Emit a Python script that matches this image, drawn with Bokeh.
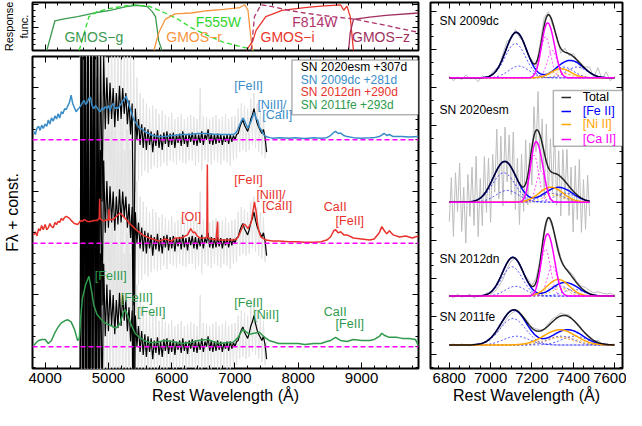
import numpy as np
from bokeh.plotting import figure
from bokeh.layouts import row, column
from bokeh.models import (LinearAxis, SingleIntervalTicker, FixedTicker, Label,
                          BoxAnnotation, Legend, LegendItem, Span, Range1d)
from bokeh.embed import file_html
from bokeh.resources import INLINE

FONT = "Liberation Sans"

# ---------------- filter response curves (top panel) ----------------
g_wl = [4026, 4154, 4300, 4513, 4769, 5026, 5282, 5436, 5615, 5692, 5744, 5795, 5846]
g_r = [0.0, 0.65, 0.69, 0.74, 0.82, 0.88, 0.96, 0.99, 0.96, 0.85, 0.74, 0.21, 0.0]
f555_wl = [4538, 4692, 4820, 5026, 5385, 5641, 5897, 6103, 6308, 6564, 6820, 7077, 7231, 7300]
f555_r = [0.0, 0.74, 0.85, 0.92, 1.0, 0.97, 0.82, 0.68, 0.5, 0.33, 0.18, 0.09, 0.04, 0.0]
r_wl = [5718, 5795, 5897, 6051, 6308, 6564, 6820, 7077, 7154, 7205, 7256, 7282]
r_r = [0.0, 0.39, 0.68, 0.80, 0.82, 0.87, 0.90, 0.94, 1.0, 0.88, 0.21, 0.0]
i_wl = [7179, 7282, 7333, 7487, 7744, 8103, 8359, 8667, 8718, 8769, 8821, 8872]
i_r = [0.0, 0.21, 0.44, 0.74, 0.88, 0.94, 0.97, 1.0, 0.88, 0.97, 0.74, 0.0]
f814_wl = [7256, 7308, 7410, 7590, 7846, 8103, 8359, 8615, 8872, 9128, 9385, 9641, 9897]
f814_r = [0.0, 0.74, 1.0, 0.96, 0.88, 0.82, 0.77, 0.73, 0.69, 0.62, 0.55, 0.47, 0.40]
z_wl = [8795, 8821, 8872, 9128, 9385, 9897]
z_r = [0.0, 0.39, 0.68, 0.73, 0.77, 0.82]

# ---------------- comparison spectra (main panel, flux above own baseline) ----------------
dc_wl = [3820, 3845, 3870, 3897, 3920, 3945, 3970, 4000, 4025, 4050,
         4075, 4100, 4128, 4155, 4180, 4205, 4230, 4256, 4280, 4308,
         4330, 4360, 4385, 4410, 4435, 4462, 4490, 4513, 4540, 4565,
         4590, 4615, 4640, 4667, 4690, 4718, 4740, 4770, 4795, 4820,
         4850, 4872, 4900, 4925, 4950, 4975, 5000, 5026, 5050, 5077,
         5100, 5128, 5150, 5180, 5205, 5231, 5260, 5282, 5305, 5333,
         5360, 5385, 5410, 5436, 5480, 5538, 5590, 5641, 5700, 5795,
         5900, 6000, 6050, 6150, 6300, 6400, 6560, 6700, 6820, 6900,
         6975, 7020, 7050, 7100, 7128, 7160, 7180, 7205, 7230, 7256,
         7290, 7308, 7335, 7360, 7385, 7410, 7450, 7487, 7550, 7600,
         7700, 7850, 7950, 8100, 8250, 8360, 8450, 8510, 8560, 8590,
         8630, 8670, 8720, 8770, 8870, 9000, 9130, 9200, 9280, 9330,
         9360, 9400, 9440, 9500, 9640, 9750, 9900]
dc_flux = [.08, .05, .11, .13, .09, .14, .11, .15, .13, .19,
           .15, .21, .18, .23, .20, .25, .21, .27, .25, .30,
           .29, .33, .36, .43, .35, .31, .27, .29, .31, .33,
           .36, .38, .34, .36, .40, .41, .33, .30, .33, .31,
           .28, .27, .31, .29, .32, .30, .33, .28, .33, .35,
           .30, .31, .30, .33, .35, .38, .40, .42, .37, .32,
           .27, .22, .18, .16, .12, .10, .07, .06, .04, .03,
           .03, .04, .04, .05, .05, .06, .06, .05, .05, .05,
           .05, .07, .11, .18, .21, .17, .14, .11, .15, .18,
           .24, .26, .20, .19, .12, .10, .05, .03, .02, .015,
           .02, .015, .02, .012, .018, .015, .02, .04, .07, .08,
           .06, .065, .04, .03, .02, .015, .018, .02, .03, .05,
           .06, .04, .05, .03, .03, .025, .03]

dn_wl = [3820, 3845, 3870, 3897, 3920, 3945, 3970, 4000, 4025, 4050,
         4075, 4100, 4128, 4155, 4180, 4205, 4230, 4256, 4280, 4308,
         4335, 4360, 4385, 4410, 4462, 4513, 4540, 4565, 4590, 4615,
         4667, 4718, 4770, 4820, 4855, 4861, 4867, 4923, 4974, 5000,
         5007, 5014, 5077, 5128, 5179, 5205, 5231, 5282, 5333, 5385,
         5436, 5500, 5538, 5641, 5750, 5795, 5900, 6000, 6050, 6150,
         6250, 6300, 6340, 6364, 6400, 6450, 6520, 6555, 6563, 6571,
         6600, 6650, 6700, 6725, 6733, 6800, 6900, 6975, 7020, 7050,
         7100, 7130, 7160, 7205, 7256, 7290, 7308, 7335, 7360, 7385,
         7410, 7487, 7590, 7700, 7850, 8000, 8100, 8250, 8360, 8450,
         8510, 8560, 8590, 8630, 8670, 8720, 8770, 8870, 9000, 9130,
         9200, 9280, 9320, 9360, 9400, 9440, 9500, 9600, 9700, 9800,
         9900]
dn_flux = [.08, .11, .07, .14, .12, .17, .13, .18, .13, .15,
           .19, .16, .15, .20, .18, .21, .20, .24, .22, .25,
           .26, .25, .24, .22, .19, .18, .20, .22, .21, .23,
           .21, .21, .22, .22, .24, .43, .24, .21, .23, .22,
           .33, .23, .23, .26, .29, .28, .26, .23, .19, .16,
           .13, .10, .08, .05, .03, .02, .04, .02, .05, .05,
           .08, .14, .10, .11, .07, .05, .05, .06, .76, .06,
           .04, .04, .03, .21, .03, .03, .03, .03, .04, .06,
           .13, .18, .18, .14, .20, .33, .40, .30, .17, .10,
           .06, .03, .02, .02, .015, .015, .01, .01, .015, .03,
           .06, .12, .13, .10, .11, .08, .08, .05, .04, .03,
           .04, .10, .16, .12, .09, .12, .08, .06, .07, .05,
           .07]

fe_wl = [3820, 3860, 3897, 3950, 4000, 4050, 4100, 4150, 4205, 4256,
         4308, 4359, 4410, 4462, 4513, 4540, 4564, 4590, 4640, 4692,
         4730, 4769, 4820, 4877, 4920, 4970, 5020, 5077, 5123, 5180,
         5230, 5261, 5300, 5354, 5420, 5492, 5560, 5646, 5750, 5892,
         6000, 6154, 6300, 6415, 6569, 6650, 6769, 6880, 6969, 7050,
         7123, 7180, 7231, 7300, 7385, 7450, 7538, 7692, 7846, 8000,
         8103, 8250, 8359, 8450, 8513, 8590, 8667, 8769, 8872, 9000,
         9128, 9200, 9282, 9320, 9359, 9436, 9550, 9641, 9750, 9850,
         9900]
fe_flux = [.01, .04, .06, .07, .07, .03, .06, .13, .19, .23,
           .25, .26, .24, .17, .06, .08, .30, .47, .60, .68,
           .55, .40, .31, .27, .24, .22, .21, .19, .18, .22,
           .32, .36, .31, .22, .13, .09, .06, .04, .04, .06,
           .05, .03, .04, .06, .07, .05, .03, .04, .04, .09,
           .17, .14, .12, .13, .14, .10, .06, .03, .03, .03,
           .02, .03, .03, .05, .06, .09, .06, .05, .07, .06,
           .06, .07, .10, .13, .11, .09, .09, .08, .08, .07,
           .01]

# SN 2020esm spectrum (binned, black) and unbinned (grey), 25 A grid
esm_start, esm_step = 4550, 25
esm_flux = [-2.5, 2.8, -2.9, 3.0, -2.2, 2.6, -3.0, 2.5, -1.8, 3.0,
            -2.6, 1.6, -1.2, 0.9, -0.6, 0.8, 0.1, 0.6, 0.15, 0.55,
            0.2, 0.5, 0.12, 0.45, 0.18, 0.52, 0.2, 0.5, 0.25, 0.45,
            0.15, 0.38, 0.05, 0.35, -1.6, 0.3, 0.0, 0.2, -0.05, 0.15,
            -0.08, 0.12, -0.1, 0.1, -0.05, 0.08, -0.12, 0.06, -0.06, 0.09,
            -0.08, 0.05, -0.1, 0.07, -0.04, 0.08, -0.07, 0.06, -0.05, 0.07,
            -0.08, 0.05, -0.03, 0.06, -0.06, 0.08, -0.04, 0.05, -0.07, 0.06,
            -0.02, 0.07, -0.05, 0.06, -0.06, 0.05, -0.03, 0.08, -0.05, 0.05,
            0.0, 0.1, -0.04, 0.06, -0.05, 0.05, -0.04, 0.06, -0.03, 0.05,
            -0.05, 0.04, -0.02, 0.05, -0.04, 0.05, -0.02, 0.04, 0.0, 0.05,
            0.06, 0.12, 0.16, 0.19, 0.14, 0.11, 0.08, 0.13, 0.2, 0.24,
            0.3, 0.22, 0.16, 0.12, 0.09, 0.06, 0.1, 0.02, -0.12]
esm_raw = [3.5, -3.2, 3.4, -3.5, 3.3, -3.4, 3.5, -3.0, 3.4, -3.3,
           3.2, -2.8, 2.9, -2.5, 2.2, -1.8, 1.6, -0.9, 1.3, -0.8,
           1.2, -0.7, 1.1, -0.6, 1.0, -0.7, 1.2, -0.5, 0.9, -0.6,
           1.1, -0.8, 0.9, -0.7, 0.8, -0.5, 0.6, -0.4, 0.45, -0.35,
           0.4, -0.3, 0.35, -0.32, 0.3, -0.28, 0.33, -0.25, 0.3, -0.27,
           0.25, -0.26, 0.28, -0.22, 0.24, -0.25, 0.22, -0.2, 0.26, -0.22,
           0.2, -0.24, 0.22, -0.2, 0.25, -0.22, 0.2, -0.23, 0.22, -0.2,
           0.24, -0.2, 0.22, -0.25, 0.2, -0.22, 0.5, -0.3, 0.23, -0.2,
           0.22, -0.22, 0.2, -0.24, 0.22, -0.2, 0.24, -0.22, 0.2, -0.24,
           0.22, -0.2, 0.25, -0.22, 0.2, -0.25, 0.22, -0.2, 0.23, -0.18,
           0.3, -0.12, 0.35, -0.1, 0.33, -0.12, 0.3, -0.1, 0.4, -0.05,
           0.45, -0.08, 0.35, -0.12, 0.3, -0.15, 0.25, -0.18, 0.05]
esm_wl = [esm_start + esm_step * k for k in range(len(esm_flux))]

group_offsets = [2.0, 1.0, 0.0]          # 2009dc, 2012dn, 2011fe groups

# ---------------- line fits (right panel) ----------------
fe_rest = [7155, 7172, 7388, 7453]
ni_rest = [7378, 7412]
ca_rest = [7291, 7324]
fit_names = ["SN 2009dc", "SN 2020esm", "SN 2012dn", "SN 2011fe"]
fit_base = [297, 170, 74, 24]
fit_xmax = [7600, 7480, 7600, 7600]
fit_label_y = [355, 264, 112, 53]
fe_shift = [-35, -91, -51, -47]
fe_sigma = [50, 55, 50, 62]
fe_amp = [[35, 12, 11, 11], [30, 12, 9, 9], [30, 10, 10, 7], [27, 9, 9, 9]]
ni_shift = [-50, -100, -65, -60]
ni_sigma = [45, 55, 50, 75]
ni_amp = [[6, 4], [9, 7], [10, 8], [8, 8]]
ca_shift = [-25, -80, -25, 0]
ca_sigma = [24, 22, 24, 24]
ca_amp = [[42, 28], [48, 32], [48, 31], [0, 0]]
# observed-minus-fit residuals of the grey data
res_step = [20, 10, 20, 20]
res_data = [
    [2, -3, 1, -2, 3, -1, 0, -4, 2, -2, 1, 3, -1, 4, 6, -2, 3, -3, 1, -2,
     2, -4, 5, 8, 3, -3, 2, -5, 4, -2, 3, -1, -4, 2, 5, -3, 9, -2, 6, -3, 1],
    [-20, 25, -35, 30, -10, 40, -30, 15, -42, 28, -15, 35, -25, 45, -38, 20, -30, 38, -22, 30,
     -40, 25, -18, 42, -33, 28, -45, 35, -20, 30, -28, 40, -35, 22, -42, 33, -25, 45, -30, 20,
     -38, 30, -22, 40, -35, 25, -45, 38, -28, 33, -20, 42, -32, 25, -40, 30, -18, 35, -30, 22,
     -42, 28, -25, 38, -35, 20, -30, 26, -15],
    [1, -2, 2, -1, 0, 2, -2, 1, -1, 2, -2, -4, -6, -8, -6, -3, 0, 2, -1, 3,
     1, 4, 2, -3, 1, -2, 3, 2, -1, 2, 3, 1, 2, 4, 3, 2, 4, 3, 2, 3, 1],
    [0, 1, -1, 1, 0, -1, 1, 0, -1, 1, 0, -2, -3, -4, -4, -3, -1, 0, 1, 2,
     1, 2, 1, 0, 2, 3, 2, 3, 1, 2, 0, 1, -1, 0, 1, -1, 2, 0, 1, 0, 1],
]

C_BLUE = "#3a8cc8"
C_RED = "#e8322b"
C_GREEN = "#2f9a4c"
C_FE, C_NI, C_CA = "#0000ff", "#ffa500", "#ff00ff"


def style_axis(ax, labels=False, size="15px"):
    ax.axis_line_color = None
    ax.major_tick_in = 6
    ax.major_tick_out = 0
    ax.minor_tick_in = 3
    ax.minor_tick_out = 0
    ax.major_tick_line_color = "black"
    ax.minor_tick_line_color = "black"
    if labels:
        ax.major_label_text_font = FONT
        ax.major_label_text_font_size = size
        ax.major_label_text_color = "black"
        ax.major_label_standoff = 4
    else:
        ax.major_label_text_font_size = "0px"
        ax.major_label_standoff = 0
    ax.axis_label_text_font = FONT
    ax.axis_label_text_font_style = "normal"
    ax.axis_label_text_color = "black"


def make_fig(xr, yr, fw, fh, bl, br, bt, bb):
    p = figure(x_range=xr, y_range=yr, frame_width=fw, frame_height=fh,
               min_border_left=bl, min_border_right=br, min_border_top=bt,
               min_border_bottom=bb, output_backend="svg", toolbar_location=None,
               tools="")
    p.xgrid.visible = False
    p.ygrid.visible = False
    p.outline_line_color = "black"
    p.outline_line_width = 2
    p.background_fill_color = "white"
    p.border_fill_color = "white"
    return p


def mirror(p, xt, yt):
    a = LinearAxis(ticker=xt)
    style_axis(a)
    p.add_layout(a, "above")
    b = LinearAxis(ticker=yt)
    style_axis(b)
    p.add_layout(b, "right")


def gauss(x, c, s, a):
    return a * np.exp(-0.5 * ((x - c) / s) ** 2)


# ================= top panel =================
xt_main = SingleIntervalTicker(interval=1000, num_minor_ticks=5)
yt_top = SingleIntervalTicker(interval=0.5, num_minor_ticks=4)
top = make_fig(Range1d(3800, 9900), Range1d(0, 1.05), 386, 48, 32, 4, 2, 2)
top.xaxis.ticker = xt_main
top.yaxis.ticker = yt_top
style_axis(top.xaxis[0])
style_axis(top.yaxis[0])
top.yaxis.axis_label = "Response\nfunc."
top.yaxis.axis_label_text_font_size = "11px"
top.yaxis.axis_label_standoff = 3
mirror(top, xt_main, yt_top)

curves = [(g_wl, g_r, "#3c9a50", "solid"), (f555_wl, f555_r, "#33dd33", "5 3"),
          (r_wl, r_r, "#f79540", "solid"), (i_wl, i_r, "#e8352d", "solid"),
          (f814_wl, f814_r, "#b0346c", "5 3"), (z_wl, z_r, "#a02f5f", "solid")]
for wl, rr, col, dash in curves:
    top.line(wl, rr, line_color=col, line_width=1.3, line_dash=dash)

for txt, x, y, col in [("GMOS\u2212g", 4769, 0.30, "#3c9a50"), ("F555W", 6738, 0.63, "#2fd42f"),
                       ("GMOS\u2212r", 6354, 0.30, "#f79540"), ("GMOS\u2212i", 7831, 0.30, "#e8352d"),
                       ("F814W", 8262, 0.63, "#b0346c"), ("GMOS\u2212z", 9308, 0.30, "#a02f5f")]:
    top.add_layout(Label(x=x, y=y, text=txt, text_align="center", text_baseline="middle",
                         text_font=FONT, text_font_size="14px", text_color=col))

# ================= main panel =================
yt_main = FixedTicker(ticks=[0.5, 1.5, 2.5],
                      minor_ticks=[round(v, 2) for v in np.arange(-0.2, 2.81, 0.1)])
main = make_fig(Range1d(3800, 9900), Range1d(-0.211, 2.804), 386, 312, 32, 4, 4, 42)
main.xaxis.ticker = xt_main
main.yaxis.ticker = yt_main
style_axis(main.xaxis[0], labels=True)
style_axis(main.yaxis[0])
main.xaxis.axis_label = "Rest Wavelength (\u00c5)"
main.xaxis.axis_label_text_font_size = "16px"
main.xaxis.axis_label_standoff = 1
main.yaxis.axis_label = "F\u03bb + const."
main.yaxis.axis_label_text_font_size = "16px"
main.yaxis.axis_label_standoff = 12
mirror(main, xt_main, yt_main)

for off in group_offsets:
    main.line(esm_wl, [v + off for v in esm_raw], line_color="#e2e2e2", line_width=1)
for off in group_offsets:
    main.line(esm_wl, [v + off for v in esm_flux], line_color="black", line_width=1.2)
for off in group_offsets:
    main.add_layout(Span(location=off, dimension="width", line_color="#ff00ff",
                         line_dash="5 3", line_width=1.5))
for wl, fl, off, col in [(dc_wl, dc_flux, 2.0, C_BLUE), (dn_wl, dn_flux, 1.0, C_RED),
                         (fe_wl, fe_flux, 0.0, C_GREEN)]:
    main.line(wl, [v + off for v in fl], line_color=col, line_width=1.5)

ann = [("[FeII]", 7215, 2.517, "center", C_BLUE), ("[NiII]/", 7354, 2.335, "left", C_BLUE),
       ("[CaII]", 7431, 2.239, "left", C_BLUE),
       ("[FeII]", 7215, 1.608, "center", C_RED), ("[NiII]/", 7338, 1.464, "left", C_RED),
       ("[CaII]", 7431, 1.359, "left", C_RED), ("[OI]", 6308, 1.254, "center", C_RED),
       ("CaII", 8585, 1.349, "center", C_RED), ("[FeII]", 8815, 1.215, "center", C_RED),
       ("[FeIII]", 5038, 0.679, "center", C_GREEN), ("[FeIII]", 5446, 0.469, "center", C_GREEN),
       ("[FeII]", 5677, 0.335, "center", C_GREEN), ("[FeII]", 7215, 0.421, "center", C_GREEN),
       ("[NiII]", 7492, 0.306, "center", C_GREEN), ("CaII", 8585, 0.335, "center", C_GREEN),
       ("[FeII]", 8815, 0.22, "center", C_GREEN)]
for txt, x, y, al, col in ann:
    main.add_layout(Label(x=x, y=y, text=txt, text_align=al, text_baseline="middle",
                          text_font=FONT, text_font_size="12.5px", text_color=col))

main.add_layout(BoxAnnotation(left=7900, right=9900, bottom=2.24, top=2.77,
                              fill_color="white", fill_alpha=1.0,
                              line_color="black", line_width=1.5))
for txt, y, col in [("SN 2020esm +307d", 2.699, "black"), ("SN 2009dc +281d", 2.579, C_BLUE),
                    ("SN 2012dn +290d", 2.459, C_RED), ("SN 2011fe +293d", 2.340, C_GREEN)]:
    main.add_layout(Label(x=8040, y=y, text=txt, text_align="left", text_baseline="middle",
                          text_font=FONT, text_font_size="12px", text_color=col))

# ================= right panel =================
xt_r = SingleIntervalTicker(interval=200, num_minor_ticks=4)
yt_r = FixedTicker(ticks=list(range(14, 374, 39)), minor_ticks=list(range(1, 374, 13)))
rp = make_fig(Range1d(6709, 7639), Range1d(0, 374), 192, 366, 8, 4, 2, 42)
rp.xaxis.ticker = xt_r
rp.yaxis.ticker = yt_r
style_axis(rp.xaxis[0], labels=True)
style_axis(rp.yaxis[0])
rp.xaxis.axis_label = "Rest Wavelength (\u00c5)"
rp.xaxis.axis_label_text_font_size = "16px"
rp.xaxis.axis_label_standoff = 1
mirror(rp, xt_r, yt_r)


def model(i, x):
    fe = [gauss(x, r + fe_shift[i], fe_sigma[i], a) for r, a in zip(fe_rest, fe_amp[i])]
    ni = [gauss(x, r + ni_shift[i], ni_sigma[i], a) for r, a in zip(ni_rest, ni_amp[i])]
    ca = [gauss(x, r + ca_shift[i], ca_sigma[i], a) for r, a in zip(ca_rest, ca_amp[i])]
    return fe, ni, ca


# grey observed spectra
for i in range(4):
    xg = 6800 + res_step[i] * np.arange(len(res_data[i]))
    fe, ni, ca = model(i, xg)
    tot = sum(fe) + sum(ni) + sum(ca)
    rp.line(xg, tot + np.array(res_data[i]) + fit_base[i], line_color="#bdbdbd", line_width=1)

legend_r = None
for i in range(4):
    x = np.arange(6800, fit_xmax[i] + 1, 4.0)
    b = fit_base[i]
    fe, ni, ca = model(i, x)
    for comps, col in [(fe, C_FE), (ni, C_NI), (ca, C_CA)]:
        for c in comps:
            if c.max() > 0:
                rp.line(x, c + b, line_color=col, line_width=1, line_dash="2 2", line_alpha=0.7)
    fe_s, ni_s, ca_s = sum(fe), sum(ni), sum(ca)
    r_fe = rp.line(x, fe_s + b, line_color=C_FE, line_width=1.5)
    r_ni = rp.line(x, ni_s + b, line_color=C_NI, line_width=1.5)
    r_tot = rp.line(x, fe_s + ni_s + ca_s + b, line_color="black", line_width=1.5, line_alpha=0.85)
    r_ca = None
    if ca_s.max() > 0:
        r_ca = rp.line(x, ca_s + b, line_color=C_CA, line_width=1.5)
    if i == 0:
        legend_r = [("Total", r_tot, "black"), ("[Fe II]", r_fe, C_FE),
                    ("[Ni II]", r_ni, C_NI), ("[Ca II]", r_ca, C_CA)]
    rp.add_layout(Label(x=6752, y=fit_label_y[i], text=fit_names[i], text_align="left",
                        text_baseline="middle", text_font=FONT, text_font_size="12px",
                        text_color="black"))

rp.add_layout(BoxAnnotation(left=7304, right=7639, bottom=227, top=284,
                            fill_color="white", fill_alpha=1.0,
                            line_color="black", line_width=1.5))
sx = 192 / 930.0
sy = 366 / 374.0
for k, (lab, rend, col) in enumerate(legend_r):
    yc = [277, 263, 249, 234][k]
    lg = Legend(items=[LegendItem(label=lab, renderers=[rend])],
                location=((7342 - 6709) * sx, yc * sy - 7),
                border_line_color=None, background_fill_alpha=0,
                padding=0, margin=0, spacing=0, glyph_width=10, glyph_height=12,
                label_height=12, label_standoff=12, label_text_font=FONT,
                label_text_font_size="12.5px", label_text_color=col)
    rp.add_layout(lg)

layout = row(column(top, main), rp)
open("out.html", "w").write(file_html(layout, INLINE))
